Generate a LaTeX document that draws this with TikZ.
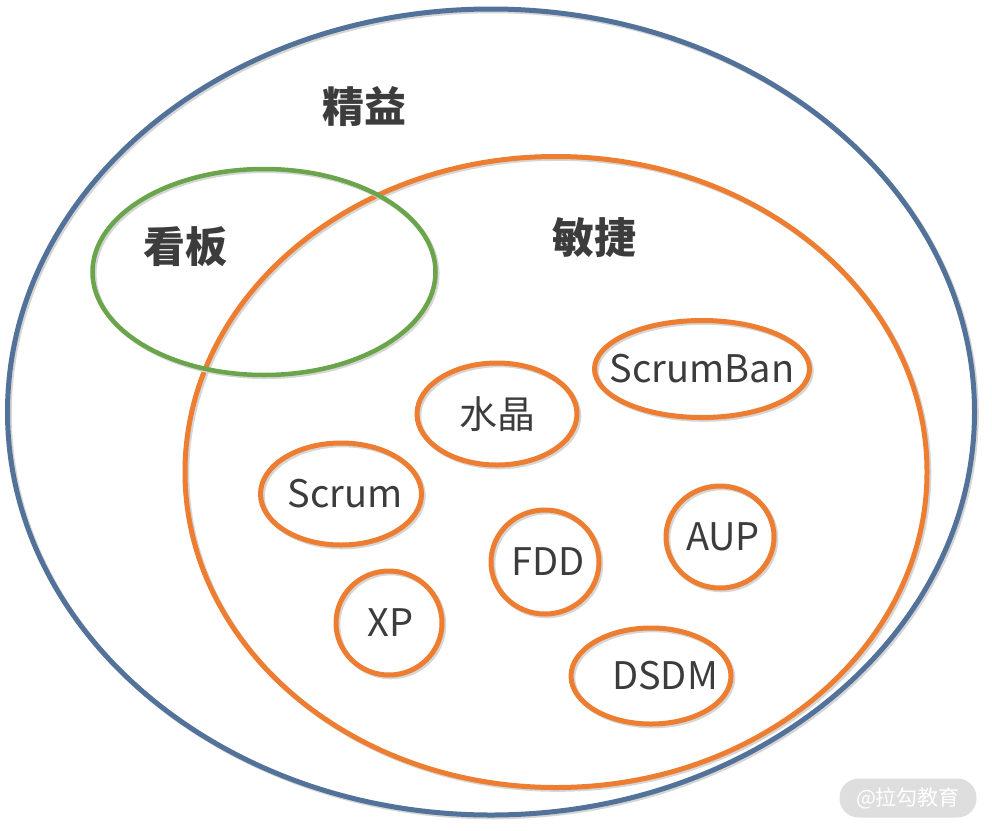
\documentclass[tikz,border=0pt]{standalone}
\usepackage{fontspec}
\setmainfont{Noto Sans CJK SC}
\usetikzlibrary{shapes.geometric}
\definecolor{LeanClr}{RGB}{83,114,154}
\definecolor{AgileClr}{RGB}{237,125,49}
\definecolor{KanbanClr}{RGB}{106,165,76}
\definecolor{TextClr}{RGB}{60,60,60}
\newcommand{\cl}[1]{\makebox[0pt]{#1}}

\tikzset{
  shade line/.style={preaction={draw=black!16, transform canvas={shift={(1.8,1.8)}}}},
  region/.style={ellipse, draw=#1, line width=5pt, inner sep=0pt, shade line},
  method/.style={ellipse, draw=AgileClr, line width=5pt, inner sep=0pt, shade line,
    text=TextClr, font=\fontsize{38}{40}\selectfont},
  title/.style={text=TextClr, font=\fontsize{42}{44}\selectfont\bfseries},
  stamp/.style={fill=black!13, text=white, rounded corners=19pt, inner sep=0pt,
    minimum width=137pt, minimum height=39pt, font=\fontsize{21}{22}\selectfont}
}

\begin{document}
\begin{tikzpicture}[x=1pt,y=-1pt]
\useasboundingbox (0,0) rectangle (992,830);

\node[region=LeanClr, minimum width=967pt, minimum height=806pt] (lean) at (491,412) {};
\node[region=AgileClr, minimum width=742pt, minimum height=631pt] (agile) at (556,472) {};
\node[region=KanbanClr, line width=4.5pt, minimum width=343pt, minimum height=206pt] (kanban) at (264,272) {};

\node[title] (leanlbl) at (364,107) {精益};
\node[title] (kanbanlbl) at (185,247) {看板};
\node[title] (agilelbl) at (594,238) {敏捷};

\node[method, minimum width=215pt, minimum height=97pt] (scrumban) at (702,369) {\cl{ScrumBan}};
\node[method, minimum width=160pt, minimum height=102pt] (crystal) at (497,414) {\cl{水晶}};
\node[method, minimum width=161pt, minimum height=102pt] (scrum) at (341,494) {\cl{\hspace{8pt}Scrum}};
\node[method, minimum width=108pt, minimum height=104pt] (fdd) at (545,562) {\cl{\hspace{6pt}FDD}};
\node[method, minimum width=108pt, minimum height=102pt] (aup) at (720,537) {\cl{\hspace{6pt}AUP}};
\node[method, minimum width=106pt, minimum height=104pt] (xp) at (389,623) {\cl{\hspace{3pt}XP}};
\node[method, minimum width=160pt, minimum height=96pt] (dsdm) at (651,676) {\cl{\hspace{28pt}DSDM}};

\node[stamp] (stamp) at (908,798) {@拉勾教育};
\end{tikzpicture}
\end{document}
